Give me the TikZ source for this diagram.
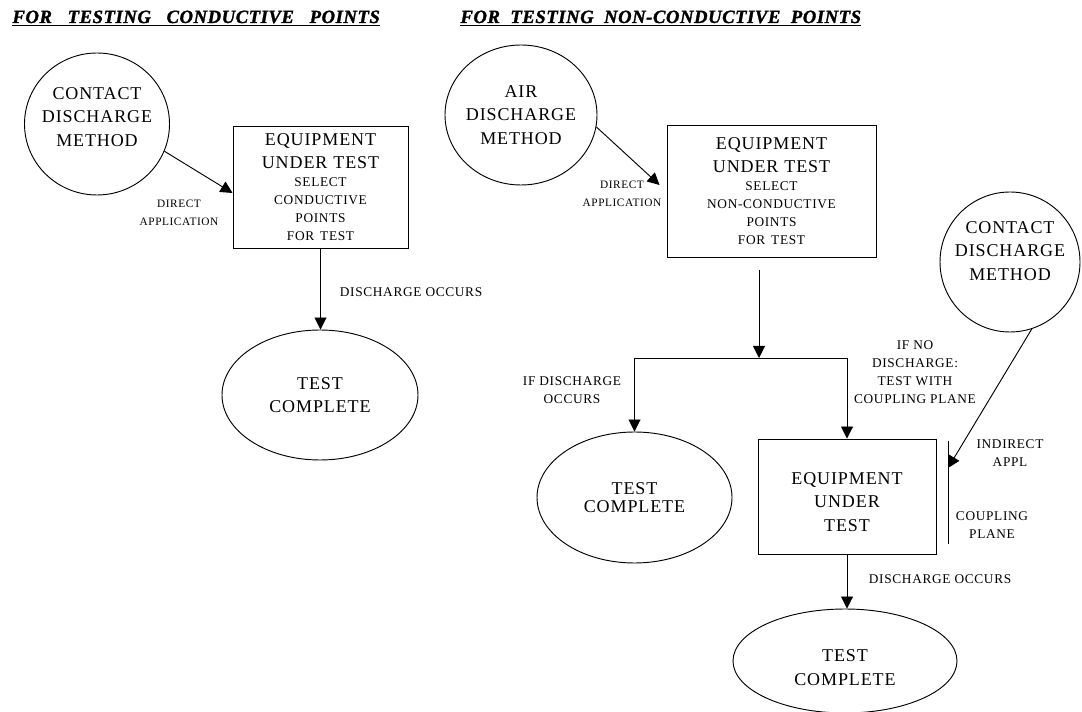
\documentclass[tikz,border=0pt]{standalone}
\usepackage{fontspec}
\setmainfont{Liberation Serif}
\newfontfamily\spacedfont[LetterSpace=5]{Liberation Serif}
\newfontfamily\titlefont[LetterSpace=3, FakeBold=1.5]{Liberation Serif Bold Italic}
\usetikzlibrary{shapes.geometric, arrows.meta, calc}
\tikzset{
  disc/.style={draw, ellipse, inner sep=0pt},
  eutbox/.style={draw, rectangle, inner sep=0pt},
  bigtxt/.style={font=\spacedfont\fontsize{13.5}{17.5}\selectfont, align=center},
  smalltxt/.style={font=\spacedfont\fontsize{10}{13.5}\selectfont, align=center},
  applytxt/.style={font=\spacedfont\fontsize{8.5}{13.5}\selectfont, align=center},
  headtxt/.style={font=\titlefont\fontsize{14}{16}\selectfont, anchor=base west, inner sep=0pt}
}

\begin{document}
\begin{tikzpicture}[>={Triangle[length=9pt,width=9pt]}, x=0.75pt, y=-0.75pt, line width=0.7pt]
\useasboundingbox (0,0) rectangle (1082,712);
% headings
\node[headtxt] (head1) at (12,23) {\underline{FOR~~~TESTING~~~CONDUCTIVE~~~POINTS}};
\node[headtxt] (head2) at (460,23) {\underline{FOR~~TESTING~~NON-CONDUCTIVE~~POINTS}};

% conductive points
\node[disc, minimum width=108.75pt, minimum height=106.5pt] (cdm1) at (97,124) {};
\node[bigtxt] (cdm1t) at ([yshift=5.25pt]cdm1) {CONTACT\\DISCHARGE\\METHOD};
\node[eutbox, bigtxt, minimum width=131.25pt, minimum height=91.5pt, text width=125pt] (eut1) at (320.5,187)
  {EQUIPMENT\\UNDER TEST\par{\fontsize{10}{13.5}\selectfont SELECT\\CONDUCTIVE\\POINTS\\FOR TEST\par}};
\node[disc, bigtxt, minimum width=147pt, minimum height=97.5pt] (tc1) at (320,395) {TEST\\COMPLETE};
\draw[->] (cdm1.-22) -- ([yshift=-4.5pt]eut1.west);
\draw[->] (eut1.south) -- (eut1.south |- tc1.north);
\node[applytxt] (da1) at (179,212.5) {DIRECT\\APPLICATION};
\node[smalltxt, anchor=west] (occ1) at (335,292) {DISCHARGE OCCURS};

% non-conductive points
\node[disc, minimum width=114pt, minimum height=105pt] (adm) at (521,115) {};
\node[bigtxt] (admt) at (adm) {AIR\\DISCHARGE\\METHOD};
\node[eutbox, bigtxt, minimum width=156.75pt, minimum height=99pt, text width=150pt] (eut2) at (771.5,191)
  {EQUIPMENT\\UNDER TEST\par{\fontsize{10}{13.5}\selectfont SELECT\\NON-CONDUCTIVE\\POINTS\\FOR TEST\par}};
\draw[->] (adm.-9) -- ([xshift=-5.25pt,yshift=4.5pt]eut2.west);
\node[applytxt] (da2) at (622,194) {DIRECT\\APPLICATION};

\coordinate (split) at (759,358);
\node[disc, bigtxt, minimum width=146.25pt, minimum height=98.25pt] (tc2) at (634.5,497.5) {TEST\\[-3.5pt]COMPLETE};
\node[eutbox, minimum width=133.5pt, minimum height=86.25pt] (eut3) at (847,496.5) {};
\node[bigtxt] (eut3t) at ([yshift=-4pt]eut3) {EQUIPMENT\\UNDER\\TEST};
\draw[->] ($(split |- eut2.south)+(0,-9.75pt)$) -- (split);
\draw (split -| tc2.north) -- (split -| eut3.north);
\draw[->] (split -| tc2.north) -- (tc2.north);
\draw[->] (split -| eut3.north) -- (eut3.north);
\node[smalltxt] (ifdis) at (572,390.5) {IF DISCHARGE\\OCCURS};
\node[smalltxt] (ifno) at (915,372.5) {IF NO\\DISCHARGE:\\TEST WITH\\COUPLING PLANE};

% coupling plane
\node[disc, minimum width=105pt, minimum height=105pt] (cdm3) at (1010,262) {};
\node[bigtxt] (cdm3t) at ([yshift=8.25pt]cdm3) {CONTACT\\DISCHARGE\\METHOD};
\coordinate (cptop) at (948,441);
\coordinate (cpbot) at (948,544);
\coordinate (cphit) at (948,468);
\draw (cptop) -- (cpbot);
\draw[->] (cdm3.-72) -- (cphit);
\node[smalltxt] (indir) at (1010,453) {INDIRECT\\APPL};
\node[smalltxt] (cpl) at (992,525) {COUPLING\\PLANE};

\node[disc, minimum width=168pt, minimum height=78pt] (tc3) at (845,661) {};
\node[bigtxt] (tc3t) at ([yshift=-5pt]tc3) {TEST\\COMPLETE};
\draw[->] (eut3.south) -- (eut3.south |- tc3.north);
\node[smalltxt, anchor=west] (occ2) at (864,579) {DISCHARGE OCCURS};
\end{tikzpicture}
\end{document}
